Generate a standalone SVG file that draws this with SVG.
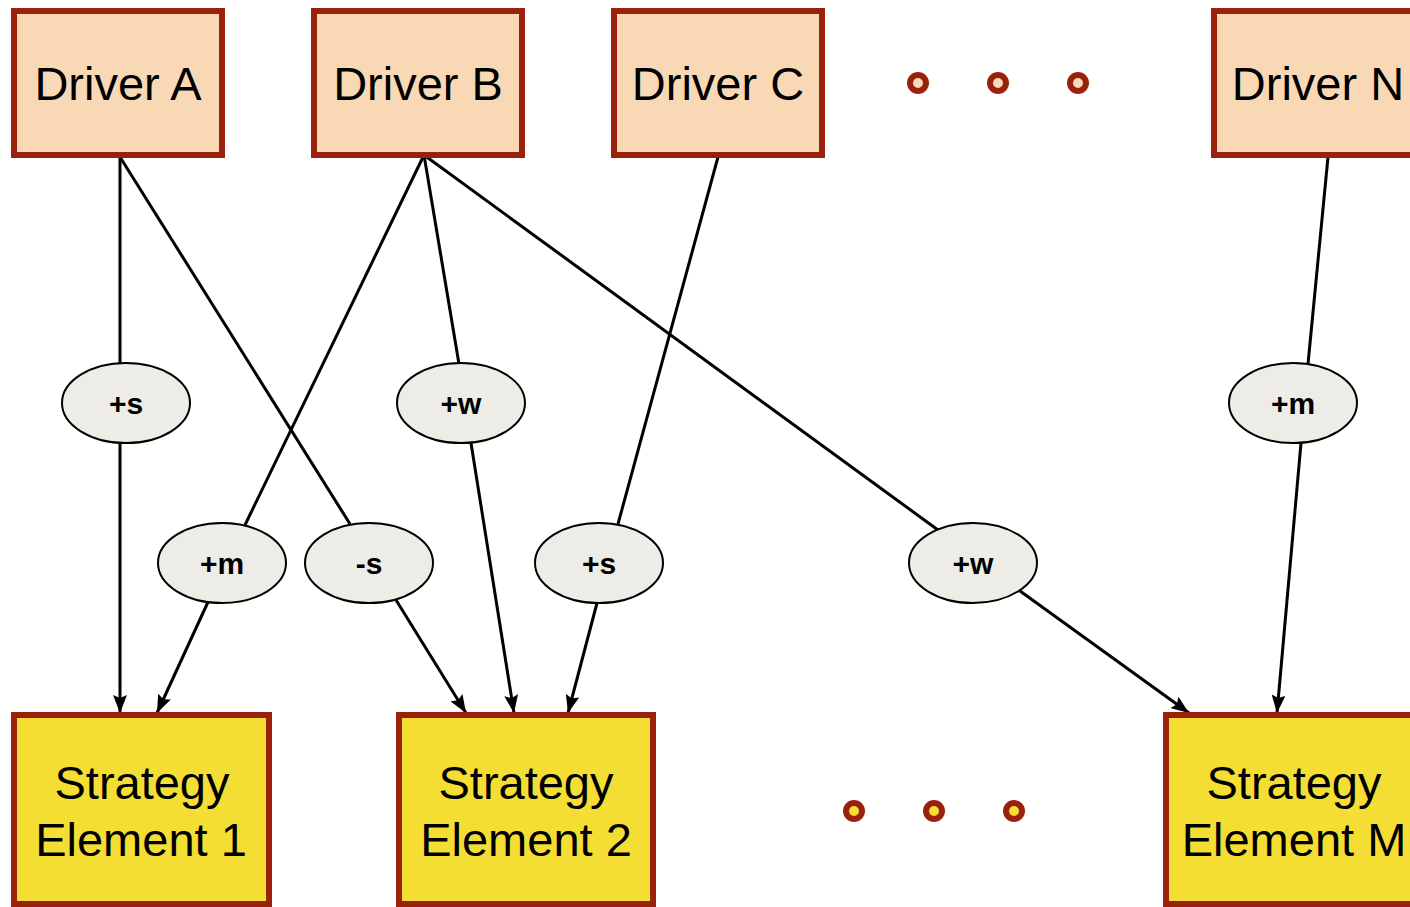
<svg xmlns="http://www.w3.org/2000/svg" width="1410" height="907" viewBox="0 0 1410 907">
  <defs>
    <marker id="arrow" viewBox="0 0 18 14" refX="18" refY="7" markerWidth="18" markerHeight="14" markerUnits="userSpaceOnUse" orient="auto">
      <path d="M0,0 L18,7 L0,14 L3,7 Z" fill="#000"/>
    </marker>
    <style>
      .driver rect { fill: #f9d8b6; stroke: #9a220d; stroke-width: 6; }
      .strategy rect { fill: #f5de33; stroke: #9a220d; stroke-width: 6; }
      .box-text { font-family: "Liberation Sans", Arial, sans-serif; font-size: 47px; fill: #000; text-anchor: middle; }
      .edge { stroke: #000; stroke-width: 3; fill: none; }
      .arrow { marker-end: url(#arrow); }
      .weight ellipse { fill: #eeece6; stroke: #000; stroke-width: 2; }
      .weight text { font-family: "Liberation Sans", Arial, sans-serif; font-size: 30px; font-weight: bold; text-anchor: middle; fill: #000; }
      .dot-top { fill: #f9d8b6; stroke: #9a220d; stroke-width: 6; }
      .dot-bottom { fill: #f5de33; stroke: #9a220d; stroke-width: 6; }
    </style>
  </defs>

  <!-- connectors -->
  <g id="connectors">
    <!-- Driver A -->
    <line class="edge" x1="120" y1="157" x2="120" y2="363"/>
    <line class="edge arrow" x1="120" y1="443" x2="120" y2="713"/>
    <line class="edge" x1="120" y1="157" x2="350" y2="524"/>
    <line class="edge arrow" x1="396" y1="600" x2="466" y2="713"/>
    <!-- Driver B -->
    <line class="edge" x1="424" y1="155" x2="245" y2="525"/>
    <line class="edge arrow" x1="208" y1="602" x2="157" y2="713"/>
    <line class="edge" x1="424" y1="155" x2="459" y2="364"/>
    <line class="edge arrow" x1="471" y1="443" x2="514" y2="713"/>
    <line class="edge" x1="424" y1="155" x2="938" y2="530"/>
    <line class="edge arrow" x1="1020" y1="591" x2="1189" y2="713"/>
    <!-- Driver C -->
    <line class="edge" x1="718" y1="157" x2="618" y2="524"/>
    <line class="edge arrow" x1="597" y1="603" x2="568" y2="713"/>
    <!-- Driver N -->
    <line class="edge" x1="1328" y1="157" x2="1308" y2="364"/>
    <line class="edge arrow" x1="1301" y1="443" x2="1277" y2="713"/>
  </g>

  <!-- drivers -->
  <g id="driver-a" class="driver">
    <rect x="14" y="11" width="208" height="144"/>
    <text class="box-text" x="118" y="100">Driver A</text>
  </g>
  <g id="driver-b" class="driver">
    <rect x="314" y="11" width="208" height="144"/>
    <text class="box-text" x="418" y="100">Driver B</text>
  </g>
  <g id="driver-c" class="driver">
    <rect x="614" y="11" width="208" height="144"/>
    <text class="box-text" x="718" y="100">Driver C</text>
  </g>
  <g id="driver-n" class="driver">
    <rect x="1214" y="11" width="208" height="144"/>
    <text class="box-text" x="1318" y="100">Driver N</text>
  </g>

  <g id="driver-ellipsis">
    <circle class="dot-top" cx="918" cy="83" r="8"/>
    <circle class="dot-top" cx="998" cy="83" r="8"/>
    <circle class="dot-top" cx="1078" cy="83" r="8"/>
  </g>

  <!-- weights -->
  <g id="w-a1" class="weight">
    <ellipse cx="126" cy="403" rx="64" ry="40"/>
    <text x="126" y="414">+s</text>
  </g>
  <g id="w-b2" class="weight">
    <ellipse cx="461" cy="403" rx="64" ry="40"/>
    <text x="461" y="414">+w</text>
  </g>
  <g id="w-nm" class="weight">
    <ellipse cx="1293" cy="403" rx="64" ry="40"/>
    <text x="1293" y="414">+m</text>
  </g>
  <g id="w-b1" class="weight">
    <ellipse cx="222" cy="563" rx="64" ry="40"/>
    <text x="222" y="574">+m</text>
  </g>
  <g id="w-a2" class="weight">
    <ellipse cx="369" cy="563" rx="64" ry="40"/>
    <text x="369" y="574">-s</text>
  </g>
  <g id="w-c2" class="weight">
    <ellipse cx="599" cy="563" rx="64" ry="40"/>
    <text x="599" y="574">+s</text>
  </g>
  <g id="w-bm" class="weight">
    <ellipse cx="973" cy="563" rx="64" ry="40"/>
    <text x="973" y="574">+w</text>
  </g>

  <!-- strategy elements -->
  <g id="strategy-1" class="strategy">
    <rect x="14" y="715" width="255" height="189"/>
    <text class="box-text" x="142" y="799">Strategy</text>
    <text class="box-text" x="141" y="856">Element 1</text>
  </g>
  <g id="strategy-2" class="strategy">
    <rect x="399" y="715" width="254" height="189"/>
    <text class="box-text" x="526" y="799">Strategy</text>
    <text class="box-text" x="526" y="856">Element 2</text>
  </g>
  <g id="strategy-m" class="strategy">
    <rect x="1166" y="715" width="254" height="189"/>
    <text class="box-text" x="1294" y="799">Strategy</text>
    <text class="box-text" x="1294" y="856">Element M</text>
  </g>

  <g id="strategy-ellipsis">
    <circle class="dot-bottom" cx="854" cy="811" r="8"/>
    <circle class="dot-bottom" cx="934" cy="811" r="8"/>
    <circle class="dot-bottom" cx="1014" cy="811" r="8"/>
  </g>
</svg>
